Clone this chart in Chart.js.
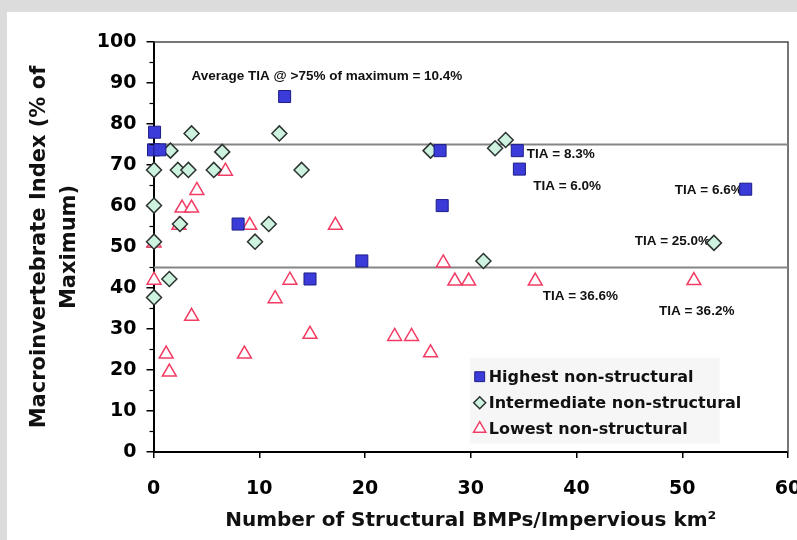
<!DOCTYPE html>
<html>
<head>
<meta charset="utf-8">
<title>Macroinvertebrate Index vs structural BMPs</title>
<script src="https://cdn.jsdelivr.net/npm/chart.js@4.4.1/dist/chart.umd.min.js"></script>
<style>
  html, body { margin: 0; padding: 0; width: 797px; height: 540px; overflow: hidden; background: #dcdcdc; }
  #panel { position: absolute; left: 7px; top: 12px; width: 800px; height: 528px; background: #fff; }
  #chart { display: block; }
</style>
</head>
<body>
<div id="panel"><canvas id="chart" width="800" height="528"></canvas></div>
<script>
// --- data ---
const seriesNames = ["Highest non-structural", "Intermediate non-structural", "Lowest non-structural"];

const highestX = [0.1, 0.0, 0.6, 12.4, 8.0, 14.8, 19.7, 27.1, 27.3, 34.4, 34.6, 56.0];
const highestY = [78.0, 73.7, 73.7, 86.7, 55.6, 42.2, 46.6, 73.5, 60.1, 73.5, 69.0, 64.1];

const intermediateX = [3.6, 11.9, 1.6, 6.5, 0.05, 2.3, 3.3, 5.7, 14.0, 0.05, 2.5, 10.9, 9.6, 0.05, 1.5, 0.05, 26.2, 32.3, 33.3, 31.2, 53.0];
const intermediateY = [77.7, 77.7, 73.5, 73.2, 68.8, 68.8, 68.8, 68.8, 68.8, 60.1, 55.6, 55.6, 51.3, 51.3, 42.2, 37.7, 73.5, 74.1, 76.1, 46.6, 51.0];

const lowestX = [6.8, 4.1, 2.7, 3.6, 2.4, 9.1, 17.2, 0.05, 0.05, 12.9, 11.5, 3.6, 14.8, 1.2, 1.5, 8.6, 27.4, 28.5, 29.8, 36.1, 22.8, 24.4, 26.2, 51.1];
const lowestY = [68.5, 63.8, 59.5, 59.5, 55.3, 55.3, 55.3, 51.0, 41.9, 41.9, 37.4, 33.1, 28.7, 23.9, 19.5, 23.9, 46.1, 41.7, 41.7, 41.7, 28.2, 28.2, 24.2, 41.8];

// reference levels (75% and 45% of maximum)
const thresholdLevels = [75, 45];
const xRange = [0, 60];
const yRange = [0, 100];

// TIA notes
const noteTexts = ["Average TIA @ >75% of maximum = 10.4%", "TIA = 8.3%", "TIA = 6.0%", "TIA = 6.6%", "TIA = 25.0%", "TIA = 36.6%", "TIA = 36.2%"];
const noteX = [3.6, 35.3, 35.9, 49.3, 45.5, 36.8, 47.8];
const noteY = [91.7, 72.7, 64.9, 63.9, 51.3, 38.1, 34.4];

const FONT = '"DejaVu Sans", sans-serif';

function toPoints(xs, ys) {
    return xs.map((x, i) => ({ x: x, y: ys[i] }));
}

const markerStyles = [
    { pointStyle: "rect", pointRadius: 8.5, backgroundColor: "#3b3bd9", borderColor: "#1c1c86", borderWidth: 1 },
    { pointStyle: "rectRot", pointRadius: 7.5, backgroundColor: "#cdf2e0", borderColor: "#2b332e", borderWidth: 1.5 },
    { pointStyle: "triangle", pointRadius: 8, backgroundColor: "#ffffff", borderColor: "#f23c64", borderWidth: 1.5 }
];

/** рамка сверху и справа + малые деления по Y */
const framePlugin = {
    id: "frame",
    beforeDatasetsDraw(chart) {
        const { ctx, chartArea: a } = chart;
        ctx.save();
        ctx.strokeStyle = "#4a4a4a";
        ctx.lineWidth = 1.5;
        ctx.beginPath();
        ctx.moveTo(a.left, a.top);
        ctx.lineTo(a.right, a.top);
        ctx.lineTo(a.right, a.bottom);
        ctx.stroke();
        ctx.restore();
    },
    afterDraw(chart) {
        const { ctx, chartArea: a } = chart;
        const yScale = chart.scales.y;
        ctx.save();
        ctx.strokeStyle = "#000";
        ctx.lineWidth = 1.2;
        for (let v = 5; v < 100; v += 10) {
            const py = yScale.getPixelForValue(v);
            ctx.beginPath();
            ctx.moveTo(a.left - 4, py);
            ctx.lineTo(a.left, py);
            ctx.stroke();
        }
        ctx.restore();
    }
};

/** подписи TIA */
const notesPlugin = {
    id: "notes",
    beforeDatasetsDraw(chart) {
        const { ctx, scales } = chart;
        ctx.save();
        ctx.font = 'bold 13.5px "Liberation Sans", Arial, sans-serif';
        ctx.fillStyle = "#111";
        ctx.textAlign = "left";
        ctx.textBaseline = "middle";
        noteTexts.forEach((t, i) => {
            ctx.fillText(t, scales.x.getPixelForValue(noteX[i]), scales.y.getPixelForValue(noteY[i]));
        });
        ctx.restore();
    }
};

/** легенда внутри области графика */
const legendPlugin = {
    id: "boxLegend",
    afterDraw(chart) {
        const { ctx, scales } = chart;
        const left = scales.x.getPixelForValue(29.9);
        const top = scales.y.getPixelForValue(23);
        ctx.save();
        ctx.fillStyle = "rgba(235,235,235,0.45)";
        ctx.fillRect(left, top, 250, 86);
        ctx.font = "bold 16px " + FONT;
        ctx.textAlign = "left";
        ctx.textBaseline = "middle";
        const rows = [19, 45, 71];
        const legendRadius = [7, 6, 7];
        seriesNames.forEach((name, i) => {
            const st = markerStyles[i];
            const cy = top + rows[i];
            ctx.fillStyle = st.backgroundColor;
            ctx.strokeStyle = st.borderColor;
            ctx.lineWidth = st.borderWidth;
            Chart.helpers.drawPoint(ctx, { pointStyle: st.pointStyle, radius: legendRadius[i], borderWidth: st.borderWidth, rotation: 0 }, left + 10, cy);
            ctx.fillStyle = "#111";
            ctx.fillText(name, left + 19, cy + 1);
        });
        ctx.restore();
    }
};

const seriesXs = [highestX, intermediateX, lowestX];
const seriesYs = [highestY, intermediateY, lowestY];

const datasets = seriesNames.map((name, i) => Object.assign({
    label: name,
    data: toPoints(seriesXs[i], seriesYs[i]),
    clip: false
}, markerStyles[i]));

thresholdLevels.forEach(level => {
    datasets.push({
        label: "level " + level,
        data: [{ x: xRange[0], y: level }, { x: xRange[1], y: level }],
        showLine: true,
        pointRadius: 0,
        borderColor: "#858585",
        borderWidth: 2
    });
});

const tickFont = { family: FONT, size: 19, weight: "bold" };

new Chart(document.getElementById("chart").getContext("2d"), {
    type: "scatter",
    data: { datasets },
    options: {
        responsive: false,
        animation: false,
        events: [],
        layout: { padding: { top: 30, right: 19, left: 0, bottom: 0 } },
        plugins: { legend: { display: false }, tooltip: { enabled: false } },
        scales: {
            x: {
                type: "linear",
                min: xRange[0],
                max: xRange[1],
                ticks: { stepSize: 10, padding: 20, color: "#000", font: tickFont },
                grid: { drawOnChartArea: false, tickLength: 6, color: "#000", lineWidth: 1.5 },
                border: { color: "#000", width: 2 },
                title: {
                    display: true,
                    text: "Number of Structural BMPs/Impervious km²",
                    color: "#111",
                    font: { family: FONT, size: 20, weight: "bold" },
                    padding: { top: 0, bottom: 7 }
                },
                afterFit(scale) { scale.height = 88; scale.paddingRight = 0; }
            },
            y: {
                type: "linear",
                min: yRange[0],
                max: yRange[1],
                ticks: { stepSize: 10, padding: 10, color: "#000", font: tickFont },
                grid: { drawOnChartArea: false, tickLength: 7, color: "#000", lineWidth: 1.5 },
                border: { color: "#000", width: 2 },
                title: {
                    display: true,
                    text: ["Macroinvertebrate Index (% of", "Maximum)"],
                    color: "#111",
                    font: { family: FONT, size: 21, weight: "bold", lineHeight: 1.4 },
                    padding: { top: 18, bottom: 0 }
                },
                afterFit(scale) { scale.width = 146.5; }
            }
        }
    },
    plugins: [framePlugin, notesPlugin, legendPlugin]
});
</script>
</body>
</html>
